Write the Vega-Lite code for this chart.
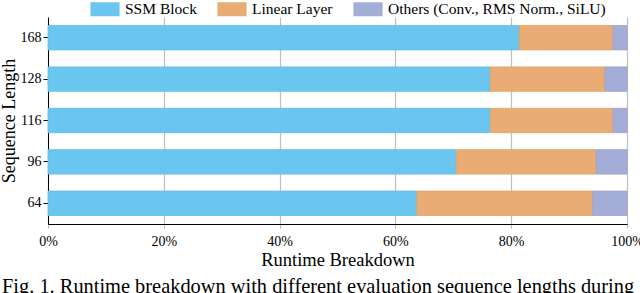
{
  "$schema": "https://vega.github.io/schema/vega-lite/v6.json",
  "width": 579,
  "height": 207,
  "autosize": {"type": "none"},
  "padding": {"left": 48, "top": 17, "right": 13, "bottom": 69},
  "background": "white",
  "config": {
    "font": "Liberation Serif",
    "view": {"stroke": null},
    "axis": {"labelFont": "Liberation Serif", "titleFont": "Liberation Serif"},
    "legend": {"labelFont": "Liberation Serif", "titleFont": "Liberation Serif"}
  },
  "title": {
    "text": "Fig. 1. Runtime breakdown with different evaluation sequence lengths during",
    "orient": "bottom",
    "anchor": "start",
    "frame": "group",
    "dx": -46,
    "offset": 8,
    "fontSize": 20.4,
    "fontWeight": "normal",
    "font": "Liberation Serif",
    "color": "black"
  },
  "data": {
    "values": [
      {"len": "168", "part": "SSM Block", "ord": 1, "v": 0.814},
      {"len": "168", "part": "Linear Layer", "ord": 2, "v": 0.162},
      {"len": "168", "part": "Others (Conv., RMS Norm., SiLU)", "ord": 3, "v": 0.024},
      {"len": "128", "part": "SSM Block", "ord": 1, "v": 0.764},
      {"len": "128", "part": "Linear Layer", "ord": 2, "v": 0.198},
      {"len": "128", "part": "Others (Conv., RMS Norm., SiLU)", "ord": 3, "v": 0.038},
      {"len": "116", "part": "SSM Block", "ord": 1, "v": 0.764},
      {"len": "116", "part": "Linear Layer", "ord": 2, "v": 0.212},
      {"len": "116", "part": "Others (Conv., RMS Norm., SiLU)", "ord": 3, "v": 0.024},
      {"len": "96", "part": "SSM Block", "ord": 1, "v": 0.705},
      {"len": "96", "part": "Linear Layer", "ord": 2, "v": 0.242},
      {"len": "96", "part": "Others (Conv., RMS Norm., SiLU)", "ord": 3, "v": 0.053},
      {"len": "64", "part": "SSM Block", "ord": 1, "v": 0.637},
      {"len": "64", "part": "Linear Layer", "ord": 2, "v": 0.304},
      {"len": "64", "part": "Others (Conv., RMS Norm., SiLU)", "ord": 3, "v": 0.059}
    ]
  },
  "mark": {"type": "bar", "strokeWidth": 0.8},
  "encoding": {
    "y": {
      "field": "len",
      "type": "nominal",
      "sort": ["168", "128", "116", "96", "64"],
      "scale": {"paddingInner": 0.41, "paddingOuter": 0.205},
      "axis": {
        "title": "Sequence Length",
        "titleFontSize": 18,
        "titleFontWeight": "normal",
        "titleColor": "black",
        "titlePadding": 2,
        "labelFontSize": 14,
        "labelColor": "black",
        "labelPadding": 2,
        "tickColor": "black",
        "tickSize": 5,
        "domainColor": "black",
        "labelAngle": 0
      }
    },
    "x": {
      "field": "v",
      "type": "quantitative",
      "stack": "zero",
      "scale": {"domain": [0, 1], "nice": false},
      "axis": {
        "format": "%",
        "values": [0, 0.2, 0.4, 0.6, 0.8, 1],
        "title": "Runtime Breakdown",
        "titleFontSize": 18.5,
        "titleFontWeight": "normal",
        "titleColor": "black",
        "titlePadding": 2,
        "labelFontSize": 14,
        "labelColor": "black",
        "labelPadding": 6,
        "labelFlush": false,
        "tickSize": 4,
        "tickColor": "#bbbbbb",
        "domainColor": "black",
        "grid": true,
        "gridColor": "#bfbfbf",
        "gridWidth": 1.2
      }
    },
    "color": {
      "field": "part",
      "type": "nominal",
      "sort": ["SSM Block", "Linear Layer", "Others (Conv., RMS Norm., SiLU)"],
      "scale": {
        "domain": ["SSM Block", "Linear Layer", "Others (Conv., RMS Norm., SiLU)"],
        "range": ["#6AC6EE", "#E8AC74", "#A4ACD8"]
      },
      "legend": {
        "title": null,
        "orient": "none",
        "direction": "horizontal",
        "legendX": 43,
        "legendY": -22,
        "symbolType": "M-1.04,-0.5H1.04V0.5H-1.04Z",
        "symbolSize": 784,
        "symbolStrokeWidth": 0,
        "symbolOpacity": 1,
        "labelFontSize": 15.5,
        "labelFont": "Liberation Serif",
        "labelLimit": 400,
        "labelColor": "black",
        "labelOffset": 6,
        "columnPadding": 20
      }
    },
    "stroke": {
      "field": "part",
      "type": "nominal",
      "scale": {
        "domain": ["SSM Block", "Linear Layer", "Others (Conv., RMS Norm., SiLU)"],
        "range": ["#5FBDE8", "#E0A366", "#9AA2D0"]
      },
      "legend": null
    },
    "order": {"field": "ord", "type": "quantitative"}
  }
}
